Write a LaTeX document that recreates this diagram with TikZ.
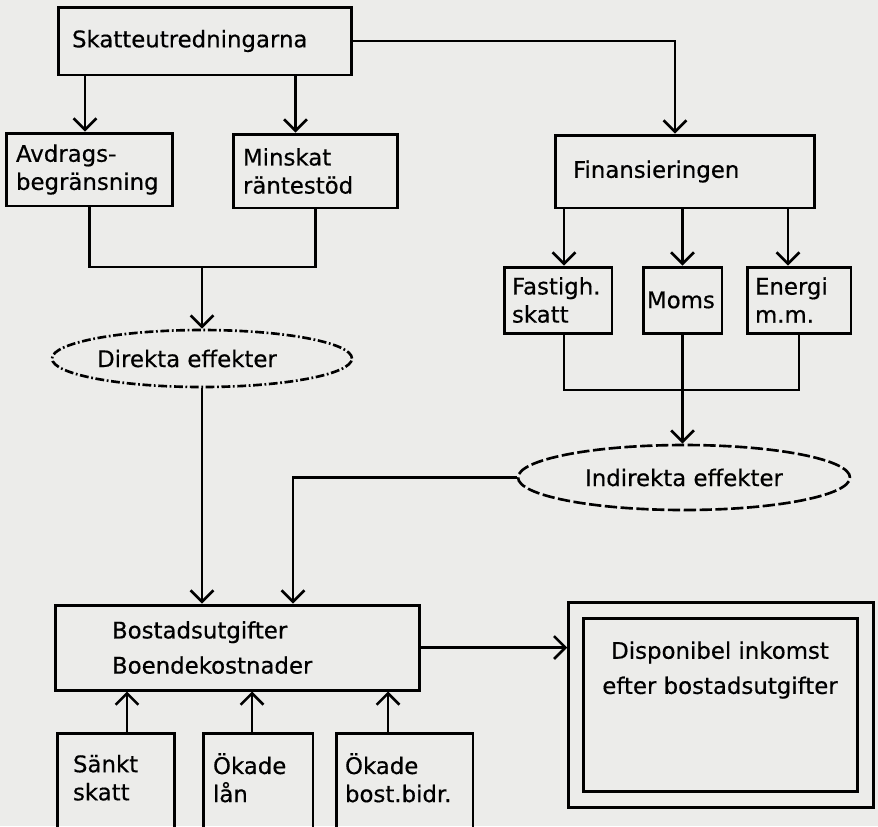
\documentclass[tikz,border=0pt]{standalone}
\usepackage{fontspec}
\setmainfont{DejaVu Sans}[FakeBold=0.5]
\usetikzlibrary{shapes.geometric,arrows.meta}
\definecolor{paper}{RGB}{236,236,234}

\begin{document}
\begin{tikzpicture} [x=0.02cm, y=-0.02cm,
	box/.style={draw, line width=1.7pt, align=left, inner ysep=0pt, font=\fontsize{13}{16}\selectfont, execute at begin node={\hyphenpenalty=10000}},
	effekt/.style={draw, ellipse, line width=1.5pt, inner sep=0pt, font=\fontsize{13}{16}\selectfont},
	arr/.style={line width=1.5pt, -{Straight Barb[length=6.5pt,width=13pt]}},
	link/.style={line width=1.5pt}]

		% paper
		\fill[paper] (0,0) rectangle (878,826);
		\clip (0,0) rectangle (878,826);

		% tax reforms
		\node[box, minimum height=1.36cm, text width=5.32cm, inner xsep=0.28cm] (skat) at (205,41) {Skatteutredningarna};
		\node[box, minimum height=1.46cm, text width=2.94cm, inner xsep=0.2cm] (avdr) at (89.5,169.5) {Avdrags-\\begränsning};
		\node[box, minimum height=1.48cm, text width=2.9cm, inner xsep=0.2cm] (mins) at (315.5,171) {Minskat\\räntestöd};
		\node[effekt, minimum width=6cm, minimum height=1.14cm, dash pattern=on 5pt off 1.5pt on 1pt off 1.5pt] (dir) at (202,358.5) {Direkta effekter\hspace*{0.6cm}};

		% financing
		\node[box, minimum height=1.46cm, text width=4.48cm, inner xsep=0.36cm] (fin) at (685,171.5) {Finansieringen};
		\node[box, minimum height=1.32cm, text width=1.84cm, inner xsep=0.16cm] (fast) at (558,300) {Fastigh.\\skatt};
		\node[box, minimum height=1.32cm, text width=1.42cm, inner xsep=0.08cm] (moms) at (682.5,300) {Moms};
		\node[box, minimum height=1.32cm, text width=1.76cm, inner xsep=0.16cm] (ener) at (799,300) {Energi\\m.m.};
		\node[effekt, minimum width=6.64cm, minimum height=1.3cm, dash pattern=on 7pt off 2pt] (ind) at (684,477.5) {Indirekta effekter};

		% housing costs
		\node[box, minimum height=1.7cm, text width=5.02cm, inner xsep=1.14cm, font=\fontsize{13}{20}\selectfont] (bost) at (237.5,647.5) {Bostadsutgifter\\Boendekostnader};
		\node[draw, line width=1.7pt, double=paper, double distance=7pt, outer sep=5pt, inner sep=0pt, minimum width=5.79cm, minimum height=3.78cm] (disp) at (720.75,705) {};
		\node[align=center, font=\fontsize{13}{20}\selectfont] (disptxt) at (720,670) {Disponibel inkomst\\efter bostadsutgifter};

		% bottom row
		\node[box, minimum height=2.24cm, text width=1.72cm, inner xsep=0.32cm, text depth=29pt] (sank) at (116,789) {Sänkt\\skatt};
		\node[box, minimum height=2.24cm, text width=1.8cm, inner xsep=0.2cm, text depth=29pt] (lan) at (258,789) {Ökade\\lån};
		\node[box, minimum height=2.24cm, text width=2.38cm, inner xsep=0.18cm, text depth=29pt] (bidr) at (404.5,789) {Ökade\\bost.bidr.};

		% arrows top
		\draw[arr] (skat.east) -| ([xshift=-0.2cm]fin.north);
		\draw[arr] ([xshift=-0.09cm]avdr.north |- skat.south) -- ([xshift=-0.09cm]avdr.north);
		\draw[arr] ([xshift=-0.4cm]mins.north |- skat.south) -- ([xshift=-0.4cm]mins.north);
		\coordinate (dsum) at (dir.north |- 0,267);
		\draw[link] (avdr.south) |- (dsum) -| (mins.south);
		\draw[arr] (dsum) -- (dir.north);
		\draw[arr] (dir.south) -- (dir.south |- bost.north);

		% arrows financing
		\draw[arr] ([xshift=0.12cm]fast.north |- fin.south) -- ([xshift=0.12cm]fast.north);
		\draw[arr] (moms.north |- fin.south) -- (moms.north);
		\draw[arr] ([xshift=-0.22cm]ener.north |- fin.south) -- ([xshift=-0.22cm]ener.north);
		\coordinate (isum) at (moms.south |- 0,390);
		\draw[link] ([xshift=0.12cm]fast.south) |- (isum) -| (ener.south);
		\draw[arr] (moms.south) -- (moms.south |- ind.north);
		\draw[arr] (ind.west) -| ([xshift=1.11cm]bost.north);

		% arrows bottom
		\draw[arr] (bost.east) -- (disp.west |- bost.east);
		\draw[arr] ([xshift=0.22cm]sank.north) -- ([xshift=0.22cm]sank.north |- bost.south);
		\draw[arr] ([xshift=-0.12cm]lan.north) -- ([xshift=-0.12cm]lan.north |- bost.south);
		\draw[arr] ([xshift=-0.33cm]bidr.north) -- ([xshift=-0.33cm]bidr.north |- bost.south);

	\end{tikzpicture}
\end{document}
